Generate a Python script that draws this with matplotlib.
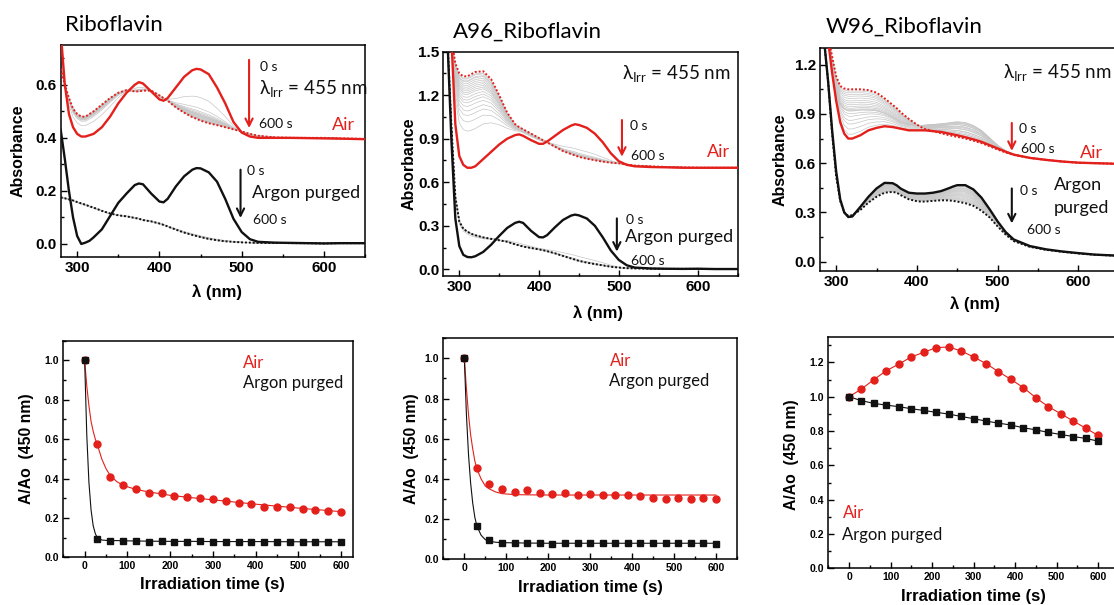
import numpy as np
import matplotlib
matplotlib.use("Agg")
import matplotlib.pyplot as plt
from matplotlib.ticker import MultipleLocator, FormatStrFormatter

plt.rcParams["font.family"] = ["Liberation Sans", "DejaVu Sans"]
plt.rcParams["font.weight"] = "bold"
plt.rcParams["mathtext.fontset"] = "custom"
plt.rcParams["mathtext.rm"] = "Lato"

RED = "#e3201b"
BLACK = "#111111"
GREY = "#c6c6c6"
TXT = ["Lato", "DejaVu Sans"]

# ---- absorption spectra (nm, absorbance) ----
wl = [280, 285, 290, 295, 300, 305, 310, 315, 320, 330,
      340, 350, 360, 370, 375, 380, 390, 400, 405, 410,
      420, 430, 440, 445, 450, 460, 470, 480, 490, 500,
      510, 520, 540, 560, 580, 600, 620, 650]

# Riboflavin
rf_air_0 = [0.80, 0.60, 0.49, 0.44, 0.415, 0.405, 0.405, 0.41, 0.415, 0.44,
            0.48, 0.53, 0.57, 0.60, 0.61, 0.605, 0.575, 0.545, 0.54, 0.55,
            0.59, 0.63, 0.655, 0.66, 0.658, 0.64, 0.59, 0.53, 0.46, 0.42,
            0.405, 0.40, 0.40, 0.40, 0.399, 0.398, 0.397, 0.395]
rf_air_600 = [0.66, 0.60, 0.55, 0.51, 0.49, 0.48, 0.48, 0.49, 0.50, 0.525,
              0.55, 0.57, 0.58, 0.575, 0.575, 0.578, 0.578, 0.56, 0.55, 0.54,
              0.515, 0.495, 0.478, 0.472, 0.465, 0.455, 0.448, 0.44, 0.432, 0.424,
              0.415, 0.408, 0.402, 0.40, 0.40, 0.40, 0.398, 0.396]
rf_ar_0 = [0.43, 0.32, 0.20, 0.10, 0.03, 0.0, 0.005, 0.012, 0.025, 0.055,
           0.105, 0.155, 0.19, 0.222, 0.228, 0.225, 0.19, 0.16, 0.157, 0.17,
           0.217, 0.255, 0.28, 0.286, 0.285, 0.27, 0.235, 0.17, 0.095, 0.045,
           0.018, 0.008, 0.005, 0.004, 0.003, 0.002, 0.003, 0.003]
rf_ar_600 = [0.175, 0.172, 0.168, 0.164, 0.158, 0.153, 0.148, 0.142, 0.137, 0.125,
             0.115, 0.108, 0.104, 0.098, 0.095, 0.09, 0.085, 0.077, 0.072, 0.066,
             0.054, 0.043, 0.034, 0.03, 0.026, 0.019, 0.014, 0.01, 0.008, 0.006,
             0.005, 0.004, 0.004, 0.003, 0.003, 0.002, 0.003, 0.003]

# A96_Riboflavin
a96_air_0 = [1.7, 1.7, 1.6, 1.0, 0.78, 0.72, 0.70, 0.70, 0.71, 0.76,
             0.81, 0.86, 0.90, 0.925, 0.93, 0.92, 0.89, 0.865, 0.865, 0.88,
             0.92, 0.96, 0.99, 1.0, 0.995, 0.975, 0.935, 0.875, 0.80, 0.745,
             0.72, 0.71, 0.705, 0.703, 0.70, 0.70, 0.70, 0.70]
a96_air_600 = [1.7, 1.7, 1.6, 1.42, 1.35, 1.33, 1.33, 1.345, 1.36, 1.365,
               1.31, 1.2, 1.08, 1.0, 0.98, 0.965, 0.935, 0.905, 0.89, 0.875,
               0.845, 0.815, 0.795, 0.785, 0.775, 0.762, 0.752, 0.742, 0.735, 0.73,
               0.722, 0.715, 0.71, 0.705, 0.703, 0.70, 0.70, 0.70]
a96_ar_0 = [1.7, 1.6, 0.9, 0.35, 0.16, 0.10, 0.085, 0.083, 0.09, 0.12,
            0.17, 0.23, 0.285, 0.32, 0.328, 0.32, 0.265, 0.222, 0.22, 0.235,
            0.29, 0.34, 0.37, 0.377, 0.372, 0.35, 0.30, 0.22, 0.13, 0.065,
            0.028, 0.012, 0.006, 0.004, 0.003, 0.004, 0.002, 0.002]
a96_ar_600 = [1.7, 1.6, 1.0, 0.5, 0.33, 0.28, 0.26, 0.245, 0.235, 0.22,
              0.21, 0.2, 0.19, 0.172, 0.165, 0.157, 0.147, 0.137, 0.132, 0.125,
              0.11, 0.092, 0.075, 0.067, 0.058, 0.046, 0.036, 0.027, 0.018, 0.012,
              0.008, 0.006, 0.004, 0.003, 0.003, 0.003, 0.002, 0.002]
# UV side of the air fan grows more slowly than the 450 nm band decays
a96_air_uv_left = [0.6, 0.5, 0.43, 0.38, 0.33, 0.29, 0.26, 0.23, 0.2, 0.18,
                   0.16, 0.14, 0.12, 0.1, 0.08, 0.06, 0.05, 0.03, 0.02]

# W96_Riboflavin
w96_air_0 = [1.5, 1.45, 1.35, 1.15, 0.98, 0.85, 0.78, 0.75, 0.75, 0.77,
             0.80, 0.815, 0.825, 0.82, 0.815, 0.81, 0.80, 0.80, 0.80, 0.80,
             0.795, 0.79, 0.78, 0.775, 0.77, 0.758, 0.745, 0.73, 0.71, 0.69,
             0.67, 0.652, 0.632, 0.62, 0.61, 0.603, 0.60, 0.596]
w96_air_240 = [1.5, 1.45, 1.36, 1.2, 1.05, 0.96, 0.93, 0.92, 0.92, 0.925,
               0.925, 0.92, 0.905, 0.88, 0.865, 0.85, 0.835, 0.83, 0.83, 0.832,
               0.836, 0.84, 0.846, 0.85, 0.852, 0.848, 0.83, 0.80, 0.755, 0.71,
               0.675, 0.655, 0.634, 0.621, 0.611, 0.604, 0.60, 0.596]
w96_air_600 = [1.5, 1.45, 1.38, 1.25, 1.13, 1.07, 1.055, 1.05, 1.05, 1.05,
               1.045, 1.03, 0.995, 0.955, 0.935, 0.91, 0.87, 0.835, 0.82, 0.808,
               0.795, 0.782, 0.77, 0.765, 0.76, 0.75, 0.737, 0.722, 0.703, 0.683,
               0.665, 0.65, 0.632, 0.62, 0.61, 0.603, 0.60, 0.596]
w96_ar_0 = [1.5, 1.35, 1.1, 0.8, 0.55, 0.38, 0.30, 0.272, 0.275, 0.334,
            0.395, 0.446, 0.48, 0.478, 0.465, 0.445, 0.42, 0.415, 0.415, 0.415,
            0.42, 0.43, 0.448, 0.458, 0.466, 0.466, 0.44, 0.39, 0.32, 0.245,
            0.18, 0.135, 0.095, 0.075, 0.062, 0.052, 0.043, 0.036]
w96_ar_600 = [1.5, 1.35, 1.1, 0.78, 0.52, 0.37, 0.30, 0.28, 0.283, 0.315,
              0.36, 0.395, 0.42, 0.425, 0.42, 0.405, 0.38, 0.368, 0.366, 0.366,
              0.37, 0.374, 0.373, 0.37, 0.366, 0.356, 0.34, 0.31, 0.27, 0.215,
              0.165, 0.125, 0.09, 0.072, 0.06, 0.05, 0.042, 0.036]

# ---- kinetics at 450 nm (A/Ao) ----
t_irr = [0, 30, 60, 90, 120, 150, 180, 210, 240, 270, 300,
         330, 360, 390, 420, 450, 480, 510, 540, 570, 600]

rf_kin_air = [1.0, 0.576, 0.41, 0.365, 0.345, 0.325, 0.325, 0.31, 0.305, 0.30, 0.295,
              0.285, 0.275, 0.27, 0.257, 0.255, 0.255, 0.245, 0.24, 0.235, 0.232]
rf_kin_ar = [1.0, 0.095, 0.085, 0.085, 0.083, 0.078, 0.085, 0.08, 0.08, 0.083, 0.08,
             0.08, 0.08, 0.08, 0.08, 0.08, 0.08, 0.08, 0.077, 0.078, 0.078]
a96_kin_air = [1.0, 0.455, 0.376, 0.35, 0.335, 0.345, 0.33, 0.325, 0.328, 0.32, 0.325,
               0.322, 0.318, 0.318, 0.315, 0.305, 0.30, 0.307, 0.30, 0.305, 0.298]
a96_kin_ar = [1.0, 0.165, 0.098, 0.082, 0.083, 0.08, 0.08, 0.078, 0.082, 0.08, 0.08,
              0.08, 0.08, 0.08, 0.08, 0.08, 0.08, 0.08, 0.08, 0.082, 0.078]
w96_kin_air = [1.0, 1.045, 1.10, 1.152, 1.19, 1.232, 1.259, 1.286, 1.29, 1.267, 1.232,
               1.193, 1.146, 1.101, 1.053, 0.994, 0.942, 0.901, 0.858, 0.817, 0.774]
w96_kin_ar = [1.0, 0.977, 0.961, 0.951, 0.942, 0.93, 0.92, 0.909, 0.899, 0.885, 0.872,
              0.858, 0.846, 0.835, 0.819, 0.807, 0.792, 0.78, 0.768, 0.757, 0.741]

# fitted decay curves
fit_t = [0, 5, 10, 15, 20, 25, 30, 40, 50, 60, 75, 90, 120, 150, 200, 250, 300, 400, 500, 600]
rf_fit_air = [1.0, 0.87, 0.77, 0.69, 0.64, 0.60, 0.57, 0.50, 0.45, 0.415,
              0.385, 0.365, 0.345, 0.332, 0.315, 0.303, 0.292, 0.27, 0.25, 0.232]
rf_fit_ar = [1.0, 0.62, 0.38, 0.24, 0.16, 0.12, 0.098, 0.088, 0.086, 0.085,
             0.085, 0.084, 0.083, 0.082, 0.081, 0.081, 0.08, 0.08, 0.079, 0.079]
a96_fit_air = [1.0, 0.85, 0.72, 0.62, 0.55, 0.49, 0.45, 0.40, 0.365, 0.35,
               0.335, 0.327, 0.322, 0.321, 0.32, 0.32, 0.32, 0.32, 0.32, 0.32]
a96_fit_ar = [1.0, 0.72, 0.52, 0.38, 0.28, 0.21, 0.165, 0.12, 0.098, 0.09,
              0.085, 0.083, 0.082, 0.081, 0.08, 0.08, 0.08, 0.08, 0.08, 0.08]


def left_fraction(kin):
    k = np.asarray(kin, dtype=float)
    return (k[1:-1] - k[-1]) / (k[0] - k[-1])


def fan(ax, start, end, frac_vis, frac_uv=None):
    # intermediate spectra between the 0 s and 600 s traces
    w = np.asarray(wl, dtype=float)
    s0, s1 = np.asarray(start), np.asarray(end)
    for i, fv in enumerate(frac_vis):
        fu = fv if frac_uv is None else frac_uv[i]
        r = np.interp(w, [370, 420], [fu, fv])
        ax.plot(w, s1 + (s0 - s1) * r, color=GREY, lw=0.5, zorder=1)


def style(ax, xlim, ylim, xmaj, ymaj, tsize):
    ax.set_xlim(*xlim)
    ax.set_ylim(*ylim)
    ax.xaxis.set_major_locator(MultipleLocator(xmaj))
    ax.xaxis.set_minor_locator(MultipleLocator(xmaj / 2))
    ax.yaxis.set_major_locator(MultipleLocator(ymaj))
    ax.yaxis.set_minor_locator(MultipleLocator(ymaj / 2))
    ax.yaxis.set_major_formatter(FormatStrFormatter("%.1f"))
    ax.tick_params(which="both", direction="in", top=False, right=False, width=1.0)
    ax.tick_params(which="major", length=4, labelsize=tsize, pad=3)
    ax.tick_params(which="minor", length=2)
    for sp in ax.spines.values():
        sp.set_linewidth(1.1)


def spectra(ax, air0, air600, ar0, ar600):
    ax.plot(wl, air600, color=RED, lw=1.4, ls=(0, (1, 1)), zorder=3)
    ax.plot(wl, ar600, color=BLACK, lw=1.4, ls=(0, (1, 1)), zorder=3)
    ax.plot(wl, air0, color=RED, lw=1.7, zorder=4)
    ax.plot(wl, ar0, color=BLACK, lw=1.7, zorder=4)
    ax.set_ylabel("Absorbance", fontsize=11.5, fontweight="bold")
    ax.set_xlabel("λ (nm)", fontsize=12, fontweight="bold")


def arrow(ax, x, y0, y1, color):
    ax.annotate("", xy=(x, y1), xytext=(x, y0),
                arrowprops=dict(arrowstyle="->", color=color, lw=1.5,
                                mutation_scale=13, shrinkA=0, shrinkB=0), zorder=5)


def note(ax, x, y, s, size=10, color=BLACK):
    ax.text(x, y, s, fontsize=size, color=color, family=TXT, fontweight="normal",
            ha="left", va="center", zorder=6)


LAM = r"$\mathregular{\lambda_{Irr}}$ = 455 nm"

fig = plt.figure(figsize=(11.14, 6.05), dpi=100)

ax1 = fig.add_axes([0.0545, 0.5757, 0.2732, 0.3499])
ax2 = fig.add_axes([0.398, 0.5438, 0.2648, 0.3708])
ax3 = fig.add_axes([0.7361, 0.5526, 0.2681, 0.3676])
ax4 = fig.add_axes([0.0568, 0.0788, 0.2598, 0.358])
ax5 = fig.add_axes([0.398, 0.0755, 0.2634, 0.3653])
ax6 = fig.add_axes([0.7435, 0.0607, 0.2609, 0.3828])

# Riboflavin spectra
fan(ax1, rf_air_0, rf_air_600, left_fraction(rf_kin_air))
fan(ax1, rf_ar_0, rf_ar_600, left_fraction(rf_kin_ar))
spectra(ax1, rf_air_0, rf_air_600, rf_ar_0, rf_ar_600)
style(ax1, (280, 650), (-0.048, 0.75), 100, 0.2, 11)
arrow(ax1, 509, 0.694, 0.437, RED)
note(ax1, 522, 0.667, "0 s")
note(ax1, 521, 0.587, LAM, 13.5)
note(ax1, 520.6, 0.453, "600 s")
note(ax1, 609.6, 0.449, "Air", 13, RED)
arrow(ax1, 498.6, 0.28, 0.098, BLACK)
note(ax1, 506.8, 0.274, "0 s")
note(ax1, 512.5, 0.192, "Argon purged", 13)
note(ax1, 513.8, 0.089, "600 s")

# A96 spectra
fan(ax2, a96_air_0, a96_air_600, left_fraction(a96_kin_air), a96_air_uv_left)
fan(ax2, a96_ar_0, a96_ar_600, left_fraction(a96_kin_ar))
spectra(ax2, a96_air_0, a96_air_600, a96_ar_0, a96_ar_600)
style(ax2, (280, 650), (-0.046, 1.5), 100, 0.3, 11)
note(ax2, 503.8, 1.351, LAM, 13.5)
arrow(ax2, 504, 1.029, 0.776, RED)
note(ax2, 513.5, 0.988, "0 s")
note(ax2, 515.1, 0.783, "600 s")
note(ax2, 610.5, 0.806, "Air", 13, RED)
arrow(ax2, 497.6, 0.351, 0.122, BLACK)
note(ax2, 509.3, 0.34, "0 s")
note(ax2, 508, 0.22, "Argon purged", 13)
note(ax2, 515.6, 0.06, "600 s")

# W96 spectra: the 450 nm band first rises (to 240 s) then falls
k = np.asarray(w96_kin_air)
ipk = int(np.argmax(k))
s0, sm, s1 = np.asarray(w96_air_0), np.asarray(w96_air_240), np.asarray(w96_air_600)
for i in range(1, len(k) - 1):
    if i <= ipk:
        f = (k[i] - k[0]) / (k[ipk] - k[0])
        curve = s0 + f * (sm - s0)
    else:
        f = (k[ipk] - k[i]) / (k[ipk] - k[-1])
        curve = sm + f * (s1 - sm)
    ax3.plot(wl, curve, color=GREY, lw=0.5, zorder=1)
fan(ax3, w96_ar_0, w96_ar_600, left_fraction(w96_kin_ar))
spectra(ax3, w96_air_0, w96_air_600, w96_ar_0, w96_ar_600)
style(ax3, (280, 650), (-0.055, 1.3), 100, 0.3, 11)
note(ax3, 507.3, 1.155, LAM, 13.5)
arrow(ax3, 517.6, 0.845, 0.675, RED)
note(ax3, 527.1, 0.811, "0 s")
note(ax3, 528.8, 0.689, "600 s")
note(ax3, 601.5, 0.665, "Air", 13, RED)
arrow(ax3, 517.6, 0.446, 0.233, BLACK)
note(ax3, 527.9, 0.432, "0 s")
note(ax3, 569.3, 0.466, "Argon", 13)
note(ax3, 569.3, 0.324, "purged", 13)
note(ax3, 536.2, 0.193, "600 s")

ax1.yaxis.set_label_coords(-0.114, 0.5)
ax1.xaxis.set_label_coords(0.514, -0.129)
ax2.yaxis.set_label_coords(-0.09, 0.5)
ax2.xaxis.set_label_coords(0.524, -0.131)
ax3.yaxis.set_label_coords(-0.11, 0.5)
ax3.xaxis.set_label_coords(0.519, -0.118)


def kinetics(ax, kin_air, kin_ar, fit_air, fit_ar, fit_x):
    ax.plot(fit_x, fit_air, color=RED, lw=0.8, zorder=2)
    ax.plot(fit_x, fit_ar, color=BLACK, lw=0.8, zorder=2)
    ax.plot(t_irr, kin_air, "o", color=RED, ms=5, mec=RED, zorder=3)
    ax.plot(t_irr, kin_ar, "s", color=BLACK, ms=4.6, mec=BLACK, zorder=4)
    ax.set_ylabel("A/Ao  (450 nm)", fontsize=11.3, fontweight="bold")
    ax.set_xlabel("Irradiation time (s)", fontsize=12, fontweight="bold")


kinetics(ax4, rf_kin_air, rf_kin_ar, rf_fit_air, rf_fit_ar, fit_t)
style(ax4, (-50, 627), (0, 1.1), 100, 0.2, 7.5)
note(ax4, 371, 0.986, "Air", 12, RED)
note(ax4, 371, 0.886, "Argon purged", 12)
ax4.yaxis.set_label_coords(-0.101, 0.5)
ax4.xaxis.set_label_coords(0.514, -0.091)

kinetics(ax5, a96_kin_air, a96_kin_ar, a96_fit_air, a96_fit_ar, fit_t)
style(ax5, (-50, 650), (0, 1.1), 100, 0.2, 7.5)
note(ax5, 347, 0.988, "Air", 12, RED)
note(ax5, 344, 0.888, "Argon purged", 12)
ax5.yaxis.set_label_coords(-0.082, 0.5)
ax5.xaxis.set_label_coords(0.5, -0.095)

kinetics(ax6, w96_kin_air, w96_kin_ar, w96_kin_air, w96_kin_ar, t_irr)
style(ax6, (-50, 650), (0, 1.35), 100, 0.2, 7.5)
note(ax6, -14.5, 0.321, "Air", 12, RED)
note(ax6, -18, 0.194, "Argon purged", 12)
ax6.yaxis.set_label_coords(-0.101, 0.49)
ax6.xaxis.set_label_coords(0.498, -0.088)

fig.text(65 / 1114, 1 - 25 / 605, "Riboflavin", fontsize=16, family=TXT,
         fontweight="normal", va="center")
fig.text(453 / 1114, 1 - 32 / 605, "A96_Riboflavin", fontsize=16, family=TXT,
         fontweight="normal", va="center")
fig.text(826 / 1114, 1 - 27 / 605, "W96_Riboflavin", fontsize=16, family=TXT,
         fontweight="normal", va="center")

fig.savefig("out.png", dpi=100)
